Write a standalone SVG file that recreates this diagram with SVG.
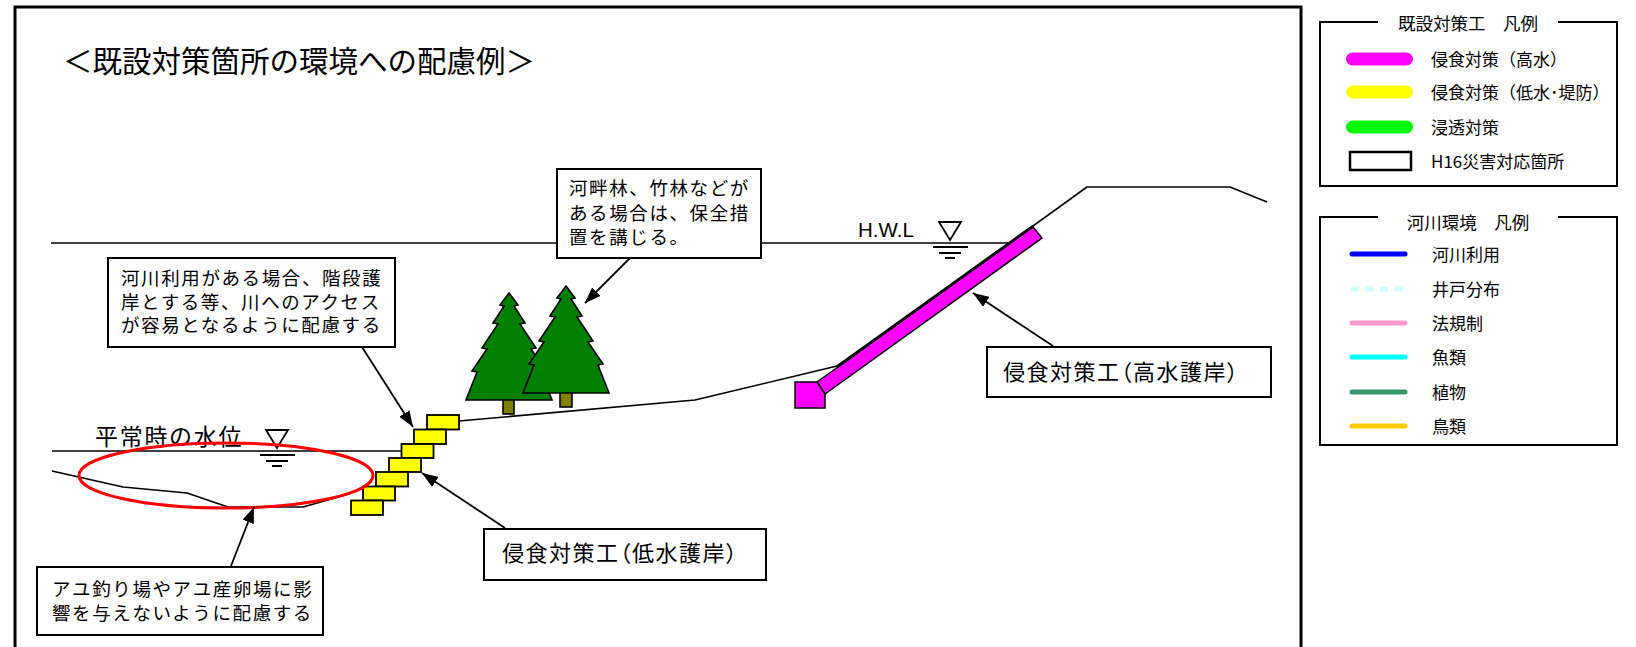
<svg xmlns="http://www.w3.org/2000/svg" width="1636" height="647" viewBox="0 0 1636 647">
  <style>
    .jp { font-family: "Noto Sans CJK JP", "Noto Sans", sans-serif; fill: #000; }
    .ln { fill: none; stroke: #000; stroke-width: 1.6; stroke-linejoin: round; }
    .box { fill: #fff; stroke: #000; stroke-width: 2; }
    .frame { fill: none; stroke: #000; stroke-width: 3; }
    .arrow { fill: none; stroke: #000; stroke-width: 1.8; marker-end: url(#head); }
    .step { fill: #ffff00; stroke: #000; stroke-width: 1.8; }
    .tree { fill: #008000; stroke: #000; stroke-width: 1.6; stroke-linejoin: miter; }
    .trunk { fill: #808000; stroke: #000; stroke-width: 1.6; }
    .call { font-size: 18.5px; letter-spacing: 1.6px; }
    .big { font-size: 22px; font-feature-settings: "palt"; letter-spacing: 1.5px; }
    .leg { font-size: 17px; }
    .legtitle { font-size: 17.5px; }
  </style>
  <defs>
    <marker id="head" viewBox="0 0 16 12" refX="16" refY="6" markerWidth="16" markerHeight="12" markerUnits="userSpaceOnUse" orient="auto">
      <path d="M0,0 L16,6 L0,12 z" fill="#000"/>
    </marker>
    <!-- fir tree, apex at 0,0, height 107, half base 43 -->
    <path id="fir" d="M0,0 L9,12 L5,13 L16,30 L11,31 L27,55 L22,56 L37,78 L32,79 L43,107 L-43,107 L-32,79 L-37,78 L-22,56 L-27,55 L-11,31 L-16,30 L-5,13 L-9,12 Z"/>
    <!-- water level mark: triangle above the line, ticks below -->
    <g id="wlmark">
      <path d="M-11,-21 H11 L0,-3 Z" fill="#fff" stroke="#000" stroke-width="1.8"/>
      <path d="M-17,4 H18 M-11,10 H11 M-5,15 H5" stroke="#000" stroke-width="1.8"/>
    </g>
  </defs>

  <rect width="1636" height="647" fill="#fff"/>

  <!-- outer frame of the cross-section panel -->
  <path class="frame" d="M15,650 V7 H1301 V650"/>

  <text class="jp" x="63" y="71.5" font-size="29.5">＜既設対策箇所の環境への配慮例＞</text>

  <!-- water levels and ground profile -->
  <g id="profile">
    <path class="ln" d="M51,243 H1008"/>
    <path class="ln" d="M52,451 H402"/>
    <path class="ln" d="M52,471 L123,487 L187,493 L228,507 L303,507 L335,498 L351,493"/>
    <path class="ln" d="M459,421 L695,400 L837,366"/>
    <use href="#wlmark" x="950" y="243"/>
    <use href="#wlmark" x="277" y="451"/>
    <text x="858" y="237" font-family="Liberation Sans, Arial, sans-serif" font-size="20.5">H.W.L</text>
    <text class="jp" x="95" y="445" font-size="23" letter-spacing="1.7">平常時の水位</text>
  </g>

  <!-- high-water revetment on the levee slope -->
  <g id="revetment-high">
    <polygon points="817,382 1033,227 1042,238 825,394" fill="#ff00ff" stroke="#000" stroke-width="1.5"/>
    <polygon points="795,382 817,382 825,394 825,408 795,408" fill="#ff00ff" stroke="#000" stroke-width="1.5"/>
    <path class="ln" d="M837,367.6 L1087,187 H1230 L1267,202" stroke-width="1.8"/>
    <path d="M837,366.5 L1033,226" stroke="#000" stroke-width="2.6" fill="none"/>
  </g>

  <!-- low-water revetment steps -->
  <g id="revetment-low">
    <rect class="step" x="427" y="415" width="32" height="14.5"/>
    <rect class="step" x="414" y="429.5" width="32" height="14.5"/>
    <rect class="step" x="401.5" y="444" width="32" height="14"/>
    <rect class="step" x="389" y="458" width="32" height="14"/>
    <rect class="step" x="376" y="472" width="32" height="14.5"/>
    <rect class="step" x="363" y="486.5" width="32" height="14"/>
    <rect class="step" x="351" y="500.5" width="32" height="14.5"/>
  </g>

  <!-- riverside woods -->
  <g id="trees">
    <rect class="trunk" x="503" y="399" width="11" height="15"/>
    <use class="tree" href="#fir" transform="translate(509,293)"/>
    <rect class="trunk" x="560" y="392" width="12" height="15"/>
    <use class="tree" href="#fir" transform="translate(566,286)"/>
  </g>

  <!-- sweetfish habitat zone -->
  <ellipse id="habitat" cx="226" cy="475.5" rx="147" ry="32.5" fill="none" stroke="#ff0000" stroke-width="3"/>

  <!-- connectors -->
  <g id="connectors">
    <line class="arrow" x1="362" y1="347" x2="413" y2="427"/>
    <line class="arrow" x1="630" y1="258" x2="585" y2="303"/>
    <line class="arrow" x1="1053" y1="346" x2="973" y2="293"/>
    <line class="arrow" x1="505" y1="528" x2="422" y2="473"/>
    <line class="arrow" x1="231" y1="566" x2="254" y2="507"/>
  </g>

  <g id="note-access">
    <rect class="box" x="108" y="258" width="287" height="89"/>
    <text class="jp call" x="121" y="285">河川利用がある場合、階段護</text>
    <text class="jp call" x="121" y="309">岸とする等、川へのアクセス</text>
    <text class="jp call" x="121" y="332">が容易となるように配慮する</text>
  </g>

  <g id="note-woods">
    <rect class="box" x="557" y="169" width="204" height="89"/>
    <text class="jp call" x="569" y="195">河畔林、竹林などが</text>
    <text class="jp call" x="569" y="220">ある場合は、保全措</text>
    <text class="jp call" x="569" y="244">置を講じる。</text>
  </g>

  <g id="note-high">
    <rect class="box" x="987" y="347" width="284" height="50"/>
    <text class="jp big" x="1003" y="380.4">侵食対策工（高水護岸）</text>
  </g>

  <g id="note-low">
    <rect class="box" x="484" y="529" width="282" height="51"/>
    <text class="jp big" x="502" y="561">侵食対策工（低水護岸）</text>
  </g>

  <g id="note-fish">
    <rect class="box" x="37" y="567" width="286" height="68"/>
    <text class="jp call" x="52" y="596">アユ釣り場やアユ産卵場に影</text>
    <text class="jp call" x="52" y="619.5">響を与えないように配慮する</text>
  </g>

  <!-- legend: existing works -->
  <g id="legend-works">
    <path d="M1378,22 H1320 V186 H1617 V22 H1558" fill="none" stroke="#000" stroke-width="2"/>
    <text class="jp legtitle" x="1468" y="29.5" text-anchor="middle">既設対策工　凡例</text>
    <line x1="1352.5" y1="59" x2="1406.5" y2="59" stroke="#ff00ff" stroke-width="13" stroke-linecap="round"/>
    <line x1="1352.5" y1="92" x2="1406.5" y2="92" stroke="#ffff00" stroke-width="13" stroke-linecap="round"/>
    <line x1="1352.5" y1="127" x2="1406.5" y2="127" stroke="#00ff00" stroke-width="13" stroke-linecap="round"/>
    <rect x="1350" y="152" width="61" height="18" fill="#fff" stroke="#000" stroke-width="2.5"/>
    <text class="jp leg" x="1431" y="65.5">侵食対策（高水）</text>
    <text class="jp leg" x="1431" y="98.5">侵食対策（低水･堤防）</text>
    <text class="jp leg" x="1431" y="133.5">浸透対策</text>
    <text class="jp leg" x="1431" y="167.5">H16災害対応箇所</text>
  </g>

  <!-- legend: river environment -->
  <g id="legend-env">
    <path d="M1378,217 H1320 V445 H1617 V217 H1558" fill="none" stroke="#000" stroke-width="2"/>
    <text class="jp legtitle" x="1468" y="228.5" text-anchor="middle">河川環境　凡例</text>
    <line x1="1352" y1="254" x2="1405" y2="254" stroke="#0000ff" stroke-width="5" stroke-linecap="round"/>
    <line x1="1351" y1="289" x2="1405" y2="289" stroke="#ccffff" stroke-width="5" stroke-dasharray="8,6.5"/>
    <line x1="1352" y1="323" x2="1405" y2="323" stroke="#ff99cc" stroke-width="5" stroke-linecap="round"/>
    <line x1="1352" y1="357" x2="1405" y2="357" stroke="#00ffff" stroke-width="5" stroke-linecap="round"/>
    <line x1="1352" y1="392" x2="1405" y2="392" stroke="#339966" stroke-width="5" stroke-linecap="round"/>
    <line x1="1352" y1="426" x2="1405" y2="426" stroke="#ffcc00" stroke-width="5" stroke-linecap="round"/>
    <text class="jp leg" x="1432" y="260.5">河川利用</text>
    <text class="jp leg" x="1432" y="295.5">井戸分布</text>
    <text class="jp leg" x="1432" y="329.5">法規制</text>
    <text class="jp leg" x="1432" y="363.5">魚類</text>
    <text class="jp leg" x="1432" y="398.5">植物</text>
    <text class="jp leg" x="1432" y="432.5">鳥類</text>
  </g>
</svg>
